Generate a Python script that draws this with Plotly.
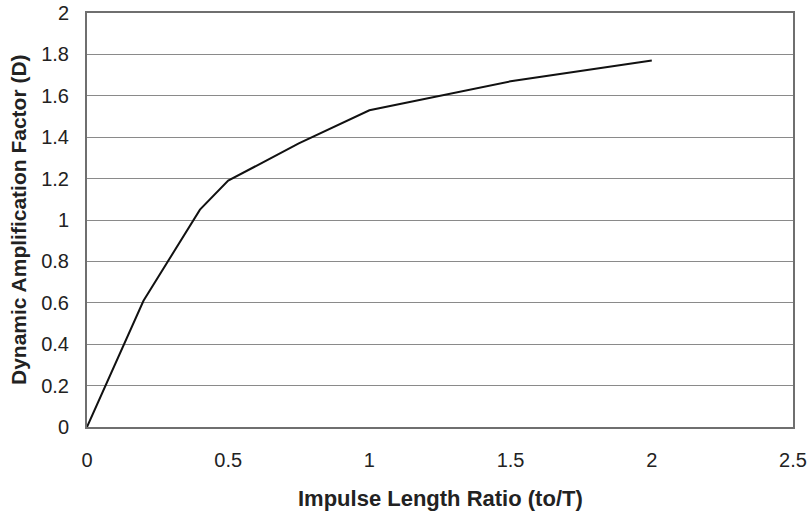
import plotly.graph_objects as go

# Impulse length ratio vs dynamic amplification factor
ratio = [0, 0.2, 0.4, 0.5, 0.75, 1.0, 1.5, 2.0]
amplification = [0, 0.61, 1.05, 1.19, 1.37, 1.53, 1.67, 1.77]

x_ticks = [0, 0.5, 1, 1.5, 2, 2.5]
y_ticks = [0, 0.2, 0.4, 0.6, 0.8, 1, 1.2, 1.4, 1.6, 1.8, 2]

fig = go.Figure(go.Scatter(
    x=ratio,
    y=amplification,
    mode='lines',
    line=dict(color='#111111', width=2),
    showlegend=False
))

fig.update_layout(
    width=811, height=512,
    margin=dict(l=87, r=18, t=13, b=85),
    paper_bgcolor='white',
    plot_bgcolor='white',
    font=dict(family='Liberation Sans, Arial', color='#222222', size=20),
    xaxis=dict(
        range=[0, 2.5],
        tickvals=x_ticks,
        ticktext=[f'{v:g}' for v in x_ticks],
        showgrid=False,
        zeroline=False,
        showline=True, linecolor='#6f6f6f', linewidth=2, mirror=True,
        ticks='', ticklabelstandoff=14,
        automargin=False,
    ),
    yaxis=dict(
        range=[0, 2],
        tickvals=y_ticks,
        ticktext=[f'{v:g}' for v in y_ticks],
        showgrid=True, gridcolor='#8a8a8a', gridwidth=1,
        zeroline=False,
        showline=True, linecolor='#6f6f6f', linewidth=2, mirror=True,
        ticks='', ticklabelstandoff=12,
        automargin=False,
    ),
    annotations=[
        dict(text='<b>Impulse Length Ratio (to/T)</b>', xref='paper', yref='paper',
             x=0.5, y=-0.1715, xanchor='center', yanchor='middle',
             showarrow=False, font=dict(size=22)),
        dict(text='<b>Dynamic Amplification Factor (D)</b>', xref='paper', yref='paper',
             x=-0.0977, y=0.5, xanchor='center', yanchor='middle', textangle=-90,
             showarrow=False, font=dict(size=21)),
    ],
)

# drop the default 8px body margin so the figure fills the window exactly
fig.write_html("out.html", config={'displayModeBar': False},
               post_script="document.body.style.margin='0';")
